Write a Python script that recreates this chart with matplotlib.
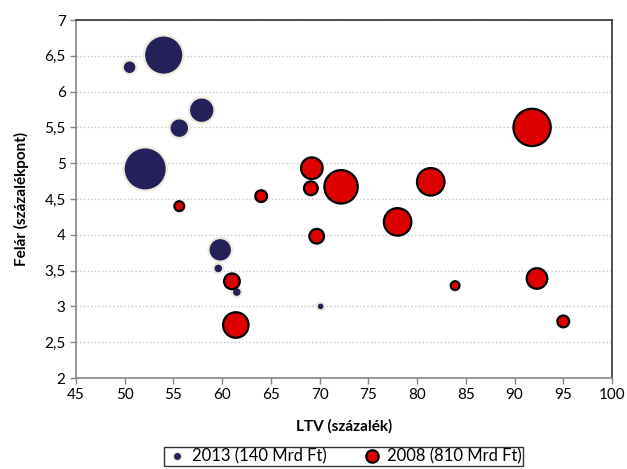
import matplotlib.pyplot as plt

plt.rcParams['font.family'] = ['Lato', 'DejaVu Sans']

# 2013 bubbles
ltv_2013 = [50.5, 54.0, 57.9, 55.6, 52.1, 59.8, 59.6, 61.5, 70.1]
spread_2013 = [6.34, 6.51, 5.74, 5.49, 4.92, 3.79, 3.53, 3.20, 3.00]
size_2013 = [49, 400, 169, 100, 484, 144, 25, 25, 16]

# 2008 bubbles
ltv_2008 = [55.6, 64.0, 69.2, 69.1, 72.2, 81.4, 78.0, 69.7, 91.8, 92.3, 83.9, 95.0, 61.0, 61.4]
spread_2008 = [4.40, 4.54, 4.93, 4.65, 4.67, 4.74, 4.18, 3.98, 5.50, 3.39, 3.29, 2.79, 3.35, 2.74]
size_2008 = [25, 36, 121, 49, 289, 196, 196, 56, 361, 110, 20, 36, 64, 169]

label_2013 = "2013 (140 Mrd Ft)"
label_2008 = "2008 (810 Mrd Ft)"

SCALE = 2.0  # size units -> points^2

fig = plt.figure(figsize=(6.27, 4.69), dpi=100)
ax = fig.add_axes([76 / 627, 1 - 378 / 469, 536 / 627, 358 / 469])

ax.scatter(ltv_2013, spread_2013, s=[v * SCALE for v in size_2013],
           color='#24215A', edgecolor='#EEEADC', linewidth=1.6, zorder=3, label=label_2013)
ax.scatter(ltv_2008, spread_2008, s=[v * SCALE for v in size_2008],
           color='#DD0000', edgecolor='black', linewidth=1.6, zorder=3, label=label_2008)

ax.set_xlim(45, 100)
ax.set_ylim(2, 7)
ax.set_xticks(range(45, 101, 5))
yt = [2 + 0.5 * i for i in range(11)]
ax.set_yticks(yt)
ax.set_yticklabels([f"{v:g}".replace('.', ',') for v in yt])
ax.tick_params(labelsize=11, color='#868686', length=4, width=1)
ax.grid(axis='y', linestyle=':', color='#C8C8C8', linewidth=1)
ax.set_axisbelow(True)

for s in ['left', 'bottom']:
    ax.spines[s].set_color('#868686')
    ax.spines[s].set_linewidth(1.2)
for s in ['top', 'right']:
    ax.spines[s].set_color('#333333')
    ax.spines[s].set_linewidth(1.2)

ax.set_xlabel("LTV (százalék)", fontsize=11, fontweight='bold', labelpad=12)
ax.set_ylabel("Felár (százalékpont)", fontsize=11, fontweight='bold', labelpad=11)

h1 = plt.Line2D([], [], marker='o', linestyle='none', markersize=6,
                markerfacecolor='#24215A', markeredgecolor='#EEEADC', markeredgewidth=1)
h2 = plt.Line2D([], [], marker='o', linestyle='none', markersize=9,
                markerfacecolor='#DD0000', markeredgecolor='black', markeredgewidth=1.5)
leg = fig.legend([h1, h2], [label_2013, label_2008], loc='upper center',
                 bbox_to_anchor=(343.5 / 627, 1 - 447 / 469), ncol=2, fontsize=12,
                 frameon=True, fancybox=False, edgecolor='black', borderpad=0.1,
                 handletextpad=0.2, columnspacing=2.0, handlelength=1.4,
                 borderaxespad=0)
leg.get_frame().set_linewidth(1)

fig.savefig('out.png', dpi=100)
